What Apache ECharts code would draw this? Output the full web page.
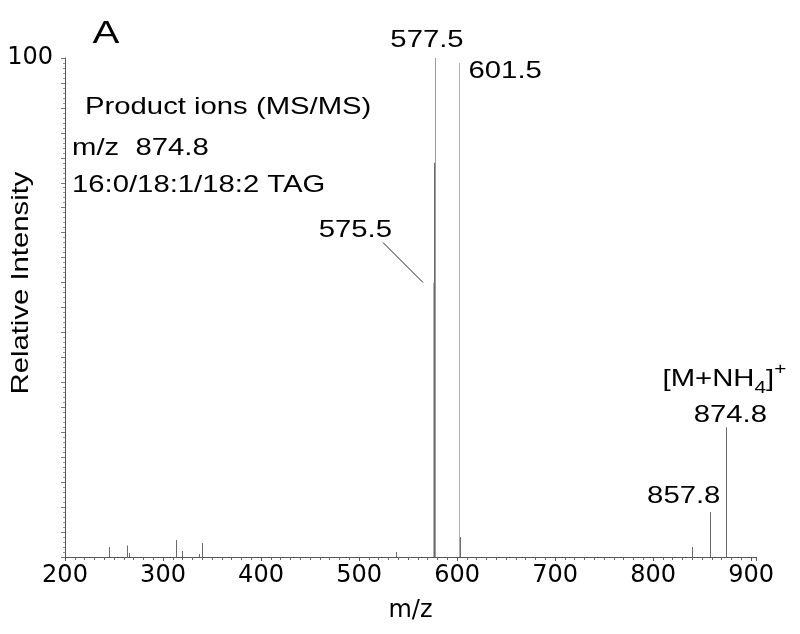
<!DOCTYPE html>
<html><head><meta charset="utf-8">
<script src="https://cdn.jsdelivr.net/npm/echarts@6/dist/echarts.min.js"></script>
<style>html,body{margin:0;padding:0;background:#fff}#c{width:800px;height:634px}</style>
</head><body><div id="c"></div>
<script>
// ---- data ----
const mz        = [245, 263, 265, 313, 319, 337, 340, 538, 575.5, 576.0, 576.5, 577.5, 601.5, 602.5, 840, 857.8, 874.8];
const intensity = [2.0, 2.3, 0.8, 3.4, 1.2, 0.6, 2.8, 1.0, 55,    41,    79,    100,   99,    4,     2,   9,     26];
const xTickValues = [200, 300, 400, 500, 600, 700, 800, 900];
const yTickLabel = [100];
const labelMz   = [577.5, 601.5, 575.5, 857.8, 874.8, 874.8];
const labelText = ['577.5', '601.5', '575.5', '857.8', '874.8', '[M+NH{sub|4}]{sup|+}'];

// ---- styling / layout (not data) ----
const TXT_FONT = '"Liberation Sans", Arial, Helvetica, sans-serif';
const AX_FONT = '"DejaVu Sans", sans-serif';
const SX = 1.22;
const peakShade = {575.5: '#b4b4b4', 577.5: '#9c9c9c', 601.5: '#b0b0b0'};
const labelLayout = [
  {dx: -8,  dy: -18, align: 'center'},
  {dx: 10,  dy: 8,   align: 'left'},
  {dx: -41, dy: -52, align: 'right', leader: [-50, -40, -10, 0]},
  {dx: -26, dy: -16, align: 'center'},
  {dx: 4,   dy: -12, align: 'center'},
  {dx: -2,  dy: -48, align: 'center'}
];

const chart = echarts.init(document.getElementById('c'), null, {renderer: 'canvas'});
const peakData = mz.map((m, i) => [m, intensity[i]]);
const labelData = labelMz.map((m, i) => [m, intensity[mz.indexOf(m)], i]);

const option = {
  backgroundColor: '#fff',
  animation: false,
  grid: {left: 65, right: 44, top: 58, bottom: 77},
  xAxis: {
    type: 'value', min: 200, max: 905, interval: 100,
    name: 'm/z', nameLocation: 'middle', nameGap: 42,
    nameTextStyle: {fontFamily: AX_FONT, fontSize: 24, color: '#000'},
    axisLine: {show: true, lineStyle: {color: '#555', width: 1}},
    axisTick: {show: true, length: 4, lineStyle: {color: '#555'}},
    minorTick: {show: true, splitNumber: 10, length: 3, lineStyle: {color: '#666'}},
    splitLine: {show: false},
    axisLabel: {
      margin: 7, fontFamily: AX_FONT, fontSize: 24, color: '#000',
      formatter: v => xTickValues.indexOf(v) >= 0 ? String(v) : ''
    }
  },
  yAxis: {
    type: 'value', min: 0, max: 100, interval: 5,
    axisLine: {show: true, lineStyle: {color: '#555', width: 1}},
    axisTick: {show: true, length: 4, lineStyle: {color: '#777'}},
    minorTick: {show: true, splitNumber: 5, length: 2, lineStyle: {color: '#999'}},
    splitLine: {show: false},
    axisLabel: {
      margin: 12, fontFamily: AX_FONT, fontSize: 24, color: '#000', padding: [10, 0, 0, 0],
      formatter: v => yTickLabel.indexOf(v) >= 0 ? String(v) : ''
    }
  },
  graphic: [
    {type: 'text', x: 106, y: 34, scaleX: 1.3, style: {text: 'A', font: '31px ' + TXT_FONT, fill: '#000', align: 'center', verticalAlign: 'middle'}},
    {type: 'text', x: 85, y: 107, scaleX: SX, style: {text: 'Product ions (MS/MS)', font: '24px ' + TXT_FONT, fill: '#000', align: 'left', verticalAlign: 'middle'}},
    {type: 'text', x: 72, y: 148, scaleX: SX, style: {text: 'm/z  874.8', font: '24px ' + TXT_FONT, fill: '#000', align: 'left', verticalAlign: 'middle'}},
    {type: 'text', x: 72, y: 185, scaleX: SX, style: {text: '16:0/18:1/18:2 TAG', font: '24px ' + TXT_FONT, fill: '#000', align: 'left', verticalAlign: 'middle'}},
    {type: 'text', x: 21, y: 283, rotation: Math.PI / 2, scaleX: SX, style: {text: 'Relative Intensity', font: '24px ' + TXT_FONT, fill: '#000', align: 'center', verticalAlign: 'middle'}}
  ],
  series: [
    {
      type: 'custom', name: 'peaks', data: peakData, clip: false,
      encode: {x: 0, y: 1},
      renderItem: function (params, api) {
        const x = api.value(0), y = api.value(1);
        const p0 = api.coord([x, 0]), p1 = api.coord([x, y]);
        const px = Math.round(p0[0]) + 0.5;
        return {
          type: 'line',
          shape: {x1: px, y1: p0[1], x2: px, y2: p1[1]},
          style: {stroke: peakShade[x] || '#6a6a6a', lineWidth: 1}
        };
      }
    },
    {
      type: 'custom', name: 'labels', data: labelData, clip: false, z: 5,
      encode: {x: 0, y: 1},
      renderItem: function (params, api) {
        const x = api.value(0), y = api.value(1), i = api.value(2);
        const p = api.coord([x, y]);
        const L = labelLayout[i];
        const children = [{
          type: 'text', x: p[0] + L.dx, y: p[1] + L.dy, scaleX: SX,
          style: {
            text: labelText[i], font: '24px ' + TXT_FONT, fill: '#000',
            align: L.align, verticalAlign: 'middle',
            rich: {
              sub: {fontSize: 17, fontFamily: TXT_FONT, verticalAlign: 'bottom', lineHeight: 36, padding: [10, 0, 0, 0]},
              sup: {fontSize: 17, fontFamily: TXT_FONT, verticalAlign: 'top', lineHeight: 30}
            }
          }
        }];
        if (L.leader) {
          children.push({
            type: 'line',
            shape: {x1: p[0] + L.leader[0], y1: p[1] + L.leader[1], x2: p[0] + L.leader[2], y2: p[1] + L.leader[3]},
            style: {stroke: '#222', lineWidth: 1}
          });
        }
        return {type: 'group', children: children};
      }
    }
  ]
};
chart.setOption(option);
</script>
</body></html>
